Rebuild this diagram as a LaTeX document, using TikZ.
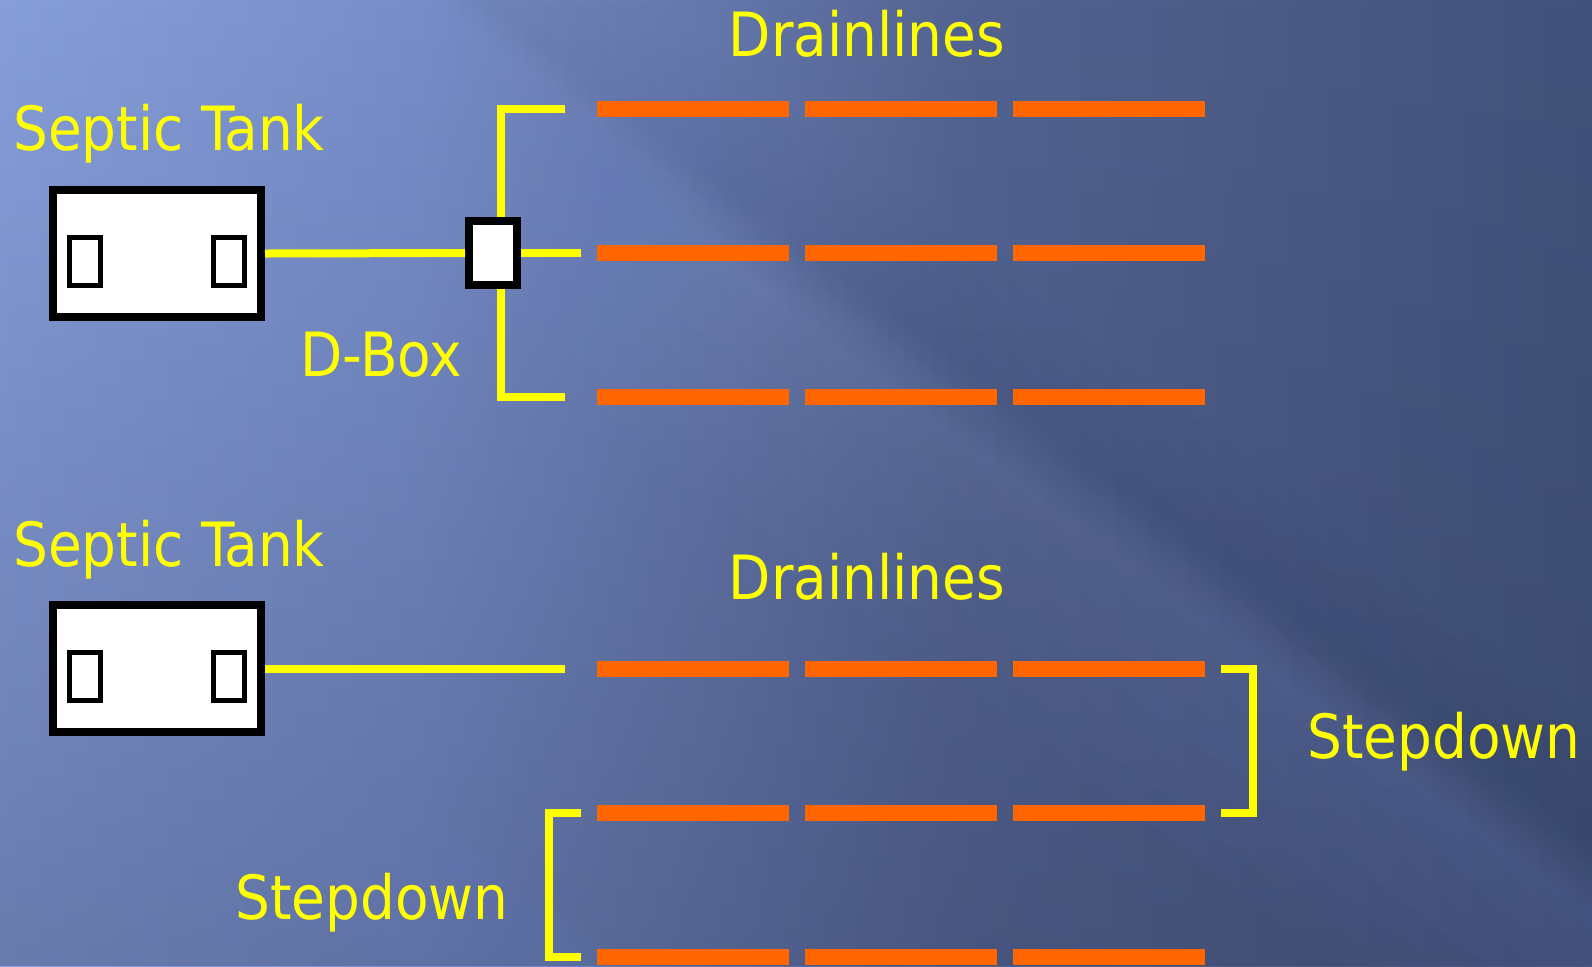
\documentclass[tikz,border=0pt]{standalone}
\usepackage{fontspec}
\setmainfont{DejaVu Sans Condensed}
\usetikzlibrary{fadings}
\definecolor{bgL}{RGB}{134,158,218}
\definecolor{bgLtwo}{RGB}{120,142,202}
\definecolor{bgM}{RGB}{84,100,146}
\definecolor{bgR}{RGB}{66,82,122}
\definecolor{bgDark}{RGB}{50,60,92}
\definecolor{glow}{RGB}{150,172,232}
\definecolor{pipeyellow}{RGB}{255,255,0}
\definecolor{drainorange}{RGB}{255,102,0}
% left-to-right backdrop colours (the path spans 25bp..75bp)
\pgfdeclarehorizontalshading{backdrop}{100bp}{color(0bp)=(bgL); color(25bp)=(bgL);
  color(38bp)=(bgLtwo); color(55bp)=(bgM); color(75bp)=(bgR); color(100bp)=(bgR)}
\begin{document}
\begin{tikzpicture}[x=0.5pt,y=-0.5pt,
  pipe/.style={draw=pipeyellow, line width=4pt},
  drain/.style={draw=drainorange, line width=8pt, dash pattern=on 96pt off 8pt},
  tankbox/.style={draw=black, fill=white, line width=4pt, minimum width=104pt,
    minimum height=63.5pt, inner sep=0pt},
  port/.style={draw=black, fill=white, line width=2.5pt, minimum width=15.5pt,
    minimum height=24pt, inner sep=0pt},
  dboxstyle/.style={draw=black, fill=white, line width=4pt, minimum width=24pt,
    minimum height=32pt, inner sep=0pt},
  lbl/.style={text=pipeyellow, font=\fontsize{30.5pt}{36pt}\selectfont,
    inner sep=0pt, anchor=base}
]
% background: horizontal gradient, darker towards the bottom
\useasboundingbox (0,0) rectangle (1592,966);
\shade[shading=backdrop] (0,0) rectangle (1592,966);
\fill[bgDark, opacity=0.35, path fading=north] (0,0) rectangle (1592,966);
\begin{scope}
  \clip (0,0) rectangle (1592,966);
  % main light band: short ramp at its upper-right edge, long fade below
  \begin{scope}[shift={(440,0)}, rotate=-37]
    \foreach \a/\b in {0/230,5/200,10/170,15/140,20/110,25/85,30/60,35/45}
      \fill[glow, opacity=0.02] (-2500,\a) rectangle (2500,\b);
    \foreach \a/\b in {120/0,100/5,80/10,60/15,40/20}
      \fill[bgDark, opacity=0.012] (-2500,-\a) rectangle (2500,-\b);
  \end{scope}
  % lower light band
  \begin{scope}[shift={(338,740)}, rotate=-37]
    \foreach \a/\b in {0/160,6/130,12/100,18/70,24/45}
      \fill[glow, opacity=0.014] (-2500,\a) rectangle (2500,\b);
  \end{scope}
  % faint streak near the lower-left corner
  \begin{scope}[shift={(0,790)}, rotate=-50]
    \foreach \a/\b in {0/60,6/40,12/25}
      \fill[glow, opacity=0.014] (-2500,\a) rectangle (2500,\b);
  \end{scope}
\end{scope}

% ---------- upper layout: septic tank with distribution box ----------
\node[lbl] (tanklabelA) at (169,150) {Septic Tank};
\node[tankbox] (tankA) at (157,253.5) {};
\node[port] (tankAin)  at (85,261) {};
\node[port] (tankAout) at (229,261) {};
\node[dboxstyle] (dbox) at (493,253) {};
\node[lbl] (dboxlabel) at (381,376) {D-Box};
\node[lbl] (drainlabelA) at (867,56) {Drainlines};

\coordinate (brTop) at (565,109);
\coordinate (brBot) at (565,397);
\coordinate (stubA) at (581,253);

\draw[pipe] (tankA.east) -- (dbox.west);
\draw[pipe] (dbox.east) -- (stubA);
\draw[pipe] ([xshift=4pt]dbox.north) |- (brTop);
\draw[pipe] ([xshift=4pt]dbox.south) |- (brBot);

\draw[drain] (597,109) -- (1205,109);
\draw[drain] (597,253) -- (1205,253);
\draw[drain] (597,397) -- (1205,397);

% ---------- lower layout: stepdown drainlines ----------
\node[lbl] (tanklabelB) at (169,566) {Septic Tank};
\node[tankbox] (tankB) at (157,668.5) {};
\node[port] (tankBin)  at (85,676) {};
\node[port] (tankBout) at (229,676) {};
\node[lbl] (drainlabelB) at (867,599) {Drainlines};

\coordinate (pipeBend) at (565,668.5);
\draw[pipe] (tankB.east) -- (pipeBend);

\draw[drain] (597,669) -- (1205,669);
\draw[drain] (597,813) -- (1205,813);
\draw[drain] (597,957) -- (1205,957);

\coordinate (sdA1) at (1221,669);
\coordinate (sdA2) at (1221,813);
\draw[pipe] (sdA1) -- (1253,669) -- (1253,813) -- (sdA2);
\node[lbl] (stepA) at (1444,758) {Stepdown};

\coordinate (sdB1) at (581,813);
\coordinate (sdB2) at (581,957);
\draw[pipe] (sdB1) -- (549,813) -- (549,957) -- (sdB2);
\node[lbl] (stepB) at (372,919) {Stepdown};
\end{tikzpicture}
\end{document}
